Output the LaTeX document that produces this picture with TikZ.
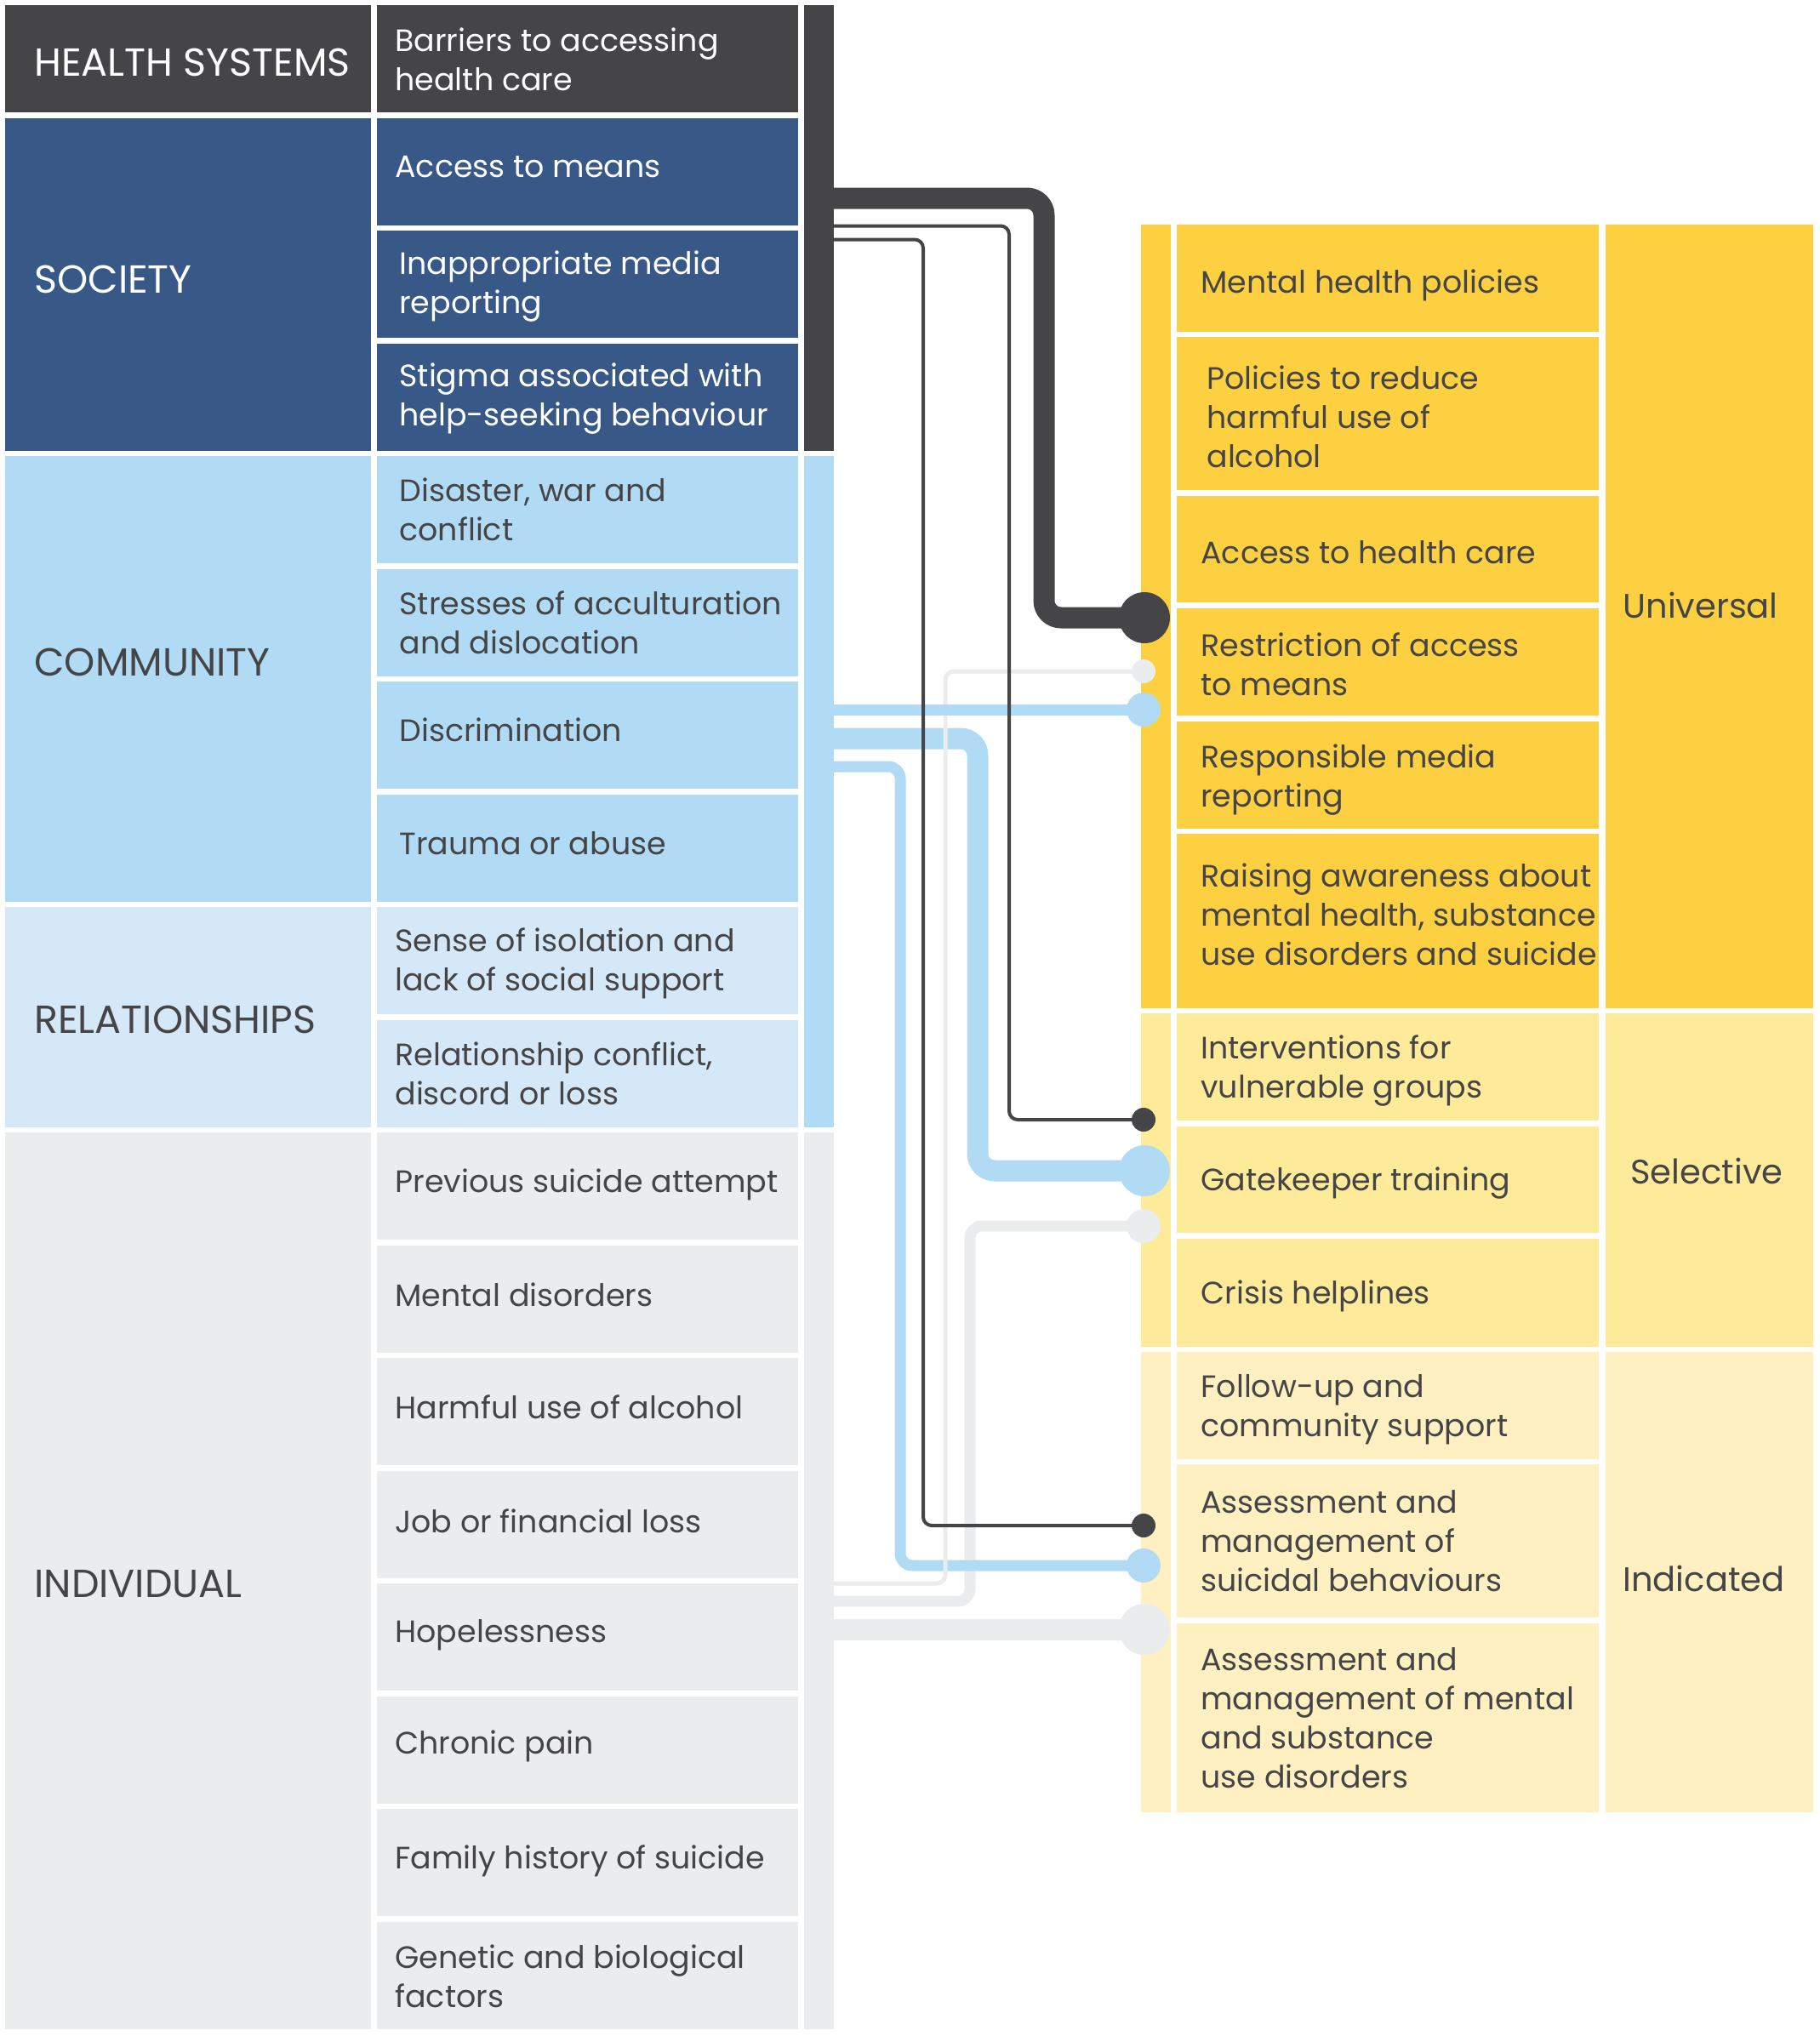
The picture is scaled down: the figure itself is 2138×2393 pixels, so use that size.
\documentclass[tikz,border=0pt]{standalone}
\usepackage{fontspec}
\setmainfont{Poppins}
\definecolor{cdark}{HTML}{454547}
\definecolor{csoc}{HTML}{385888}
\definecolor{ccom}{HTML}{B1DBF4}
\definecolor{crel}{HTML}{D5E8F8}
\definecolor{cind}{HTML}{EBECEE}
\definecolor{cuni}{HTML}{FDD042}
\definecolor{csel}{HTML}{FEEB99}
\definecolor{cindic}{HTML}{FEF0C0}
\definecolor{ctext}{HTML}{454547}
\newcommand\cellbox[6]{\node[cbox, fill=#6, minimum width={(#4-#2)*0.5pt}, minimum height={(#5-#3)*0.5pt}] (#1) at ({(#2+#4)/2},{(#3+#5)/2}) {};}
\tikzset{
  cbox/.style={rectangle, draw=none, inner sep=0pt, outer sep=0pt},
  txt/.style={anchor=west, align=left, inner sep=0pt, text=ctext, font=\fontsize{18.2}{23}\selectfont},
  wtxt/.style={txt, text=white},
  lab/.style={txt, font=\fontsize{23}{27}\selectfont},
  wlab/.style={lab, text=white},
  rlab/.style={txt, font=\fontsize{20}{24}\selectfont},
  dot/.style={circle, draw=none, inner sep=0pt, outer sep=0pt},
  conn/.style={line cap=butt, line join=round},
}
\begin{document}
\begin{tikzpicture}[x=0.5pt, y=-0.5pt]
\useasboundingbox (0,0) rectangle (2138,2393);
% ---------- left groups ----------
\cellbox{gHS}{6}{6}{436}{132}{cdark}
\cellbox{gSO}{6}{138.5}{436}{529.5}{csoc}
\cellbox{gCO}{6}{536}{436}{1059.5}{ccom}
\cellbox{gRE}{6}{1066}{436}{1324.5}{crel}
\cellbox{gIN}{6}{1331}{436}{2384.5}{cind}
\node[wlab] (lHS) at (40,73) {HEALTH SYSTEMS};
\node[wlab] (lSO) at (40,328) {SOCIETY};
\node[lab] (lCO) at (40,778) {COMMUNITY};
\node[lab] (lRE) at (40,1198) {RELATIONSHIPS};
\node[lab] (lIN) at (40,1862) {INDIVIDUAL};
% ---------- middle column ----------
\cellbox{m0}{443}{6}{938}{132}{cdark}
\cellbox{m1}{443}{138.5}{938}{264.5}{csoc}
\cellbox{m2}{443}{271}{938}{397}{csoc}
\cellbox{m3}{443}{403.5}{938}{529.5}{csoc}
\cellbox{m4}{443}{536}{938}{662}{ccom}
\cellbox{m5}{443}{668.5}{938}{794.5}{ccom}
\cellbox{m6}{443}{801}{938}{927}{ccom}
\cellbox{m7}{443}{933.5}{938}{1059.5}{ccom}
\cellbox{m8}{443}{1066}{938}{1192}{crel}
\cellbox{m9}{443}{1198.5}{938}{1324.5}{crel}
\cellbox{m10}{443}{1331}{938}{1457}{cind}
\cellbox{m11}{443}{1463.5}{938}{1589.5}{cind}
\cellbox{m12}{443}{1596}{938}{1722}{cind}
\cellbox{m13}{443}{1728.5}{938}{1854.5}{cind}
\cellbox{m14}{443}{1861}{938}{1987}{cind}
\cellbox{m15}{443}{1993.5}{938}{2119.5}{cind}
\cellbox{m16}{443}{2126}{938}{2252}{cind}
\cellbox{m17}{443}{2258.5}{938}{2384.5}{cind}
\node[wtxt] (t0) at ([xshift=10.5pt,yshift=-0.5pt]m0.west) {Barriers to accessing\\health care};
\node[wtxt] (t1) at ([xshift=10.5pt,yshift=2.5pt]m1.west) {Access to means};
\node[wtxt] (t2) at ([xshift=13pt,yshift=-1.5pt]m2.west) {Inappropriate media\\reporting};
\node[wtxt] (t3) at ([xshift=13pt,yshift=-1pt]m3.west) {Stigma associated with\\help-seeking behaviour};
\node[txt] (t4) at ([xshift=13pt]m4.west) {Disaster, war and\\conflict};
\node[txt] (t5) at ([xshift=13pt]m5.west) {Stresses of acculturation\\and dislocation};
\node[txt] (t6) at ([xshift=13pt,yshift=3pt]m6.west) {Discrimination};
\node[txt] (t7) at ([xshift=13pt,yshift=2.5pt]m7.west) {Trauma or abuse};
\node[txt] (t8) at ([xshift=10.5pt,yshift=-1.5pt]m8.west) {Sense of isolation and\\lack of social support};
\node[txt] (t9) at ([xshift=10.5pt]m9.west) {Relationship conflict,\\discord or loss};
\node[txt] (t10) at ([xshift=10.5pt,yshift=1pt]m10.west) {Previous suicide attempt};
\node[txt] (t11) at ([xshift=10.5pt,yshift=2.5pt]m11.west) {Mental disorders};
\node[txt] (t12) at ([xshift=10.5pt,yshift=2.5pt]m12.west) {Harmful use of alcohol};
\node[txt] (t13) at ([xshift=10.5pt,yshift=2pt]m13.west) {Job or financial loss};
\node[txt] (t14) at ([xshift=10.5pt,yshift=1pt]m14.west) {Hopelessness};
\node[txt] (t15) at ([xshift=10.5pt,yshift=2pt]m15.west) {Chronic pain};
\node[txt] (t16) at ([xshift=10.5pt,yshift=1pt]m16.west) {Family history of suicide};
\node[txt] (t17) at ([xshift=10.5pt,yshift=-0.5pt]m17.west) {Genetic and biological\\factors};
% ---------- bar ----------
\cellbox{barA}{945}{6}{980}{529.5}{cdark}
\cellbox{barB}{945}{536}{980}{1324.5}{ccom}
\cellbox{barC}{945}{1331}{980}{2384.5}{cind}
% ---------- right side ----------
\cellbox{sU}{1341}{264}{1376}{1185}{cuni}
\cellbox{sS}{1341}{1191}{1376}{1583}{csel}
\cellbox{sI}{1341}{1589}{1376}{2130}{cindic}
\cellbox{u1}{1383}{264}{1879}{390}{cuni}
\cellbox{u2}{1383}{396}{1879}{576}{cuni}
\cellbox{u3}{1383}{583}{1879}{708}{cuni}
\cellbox{u4}{1383}{715}{1879}{841}{cuni}
\cellbox{u5}{1383}{848}{1879}{974}{cuni}
\cellbox{u6}{1383}{980}{1879}{1185}{cuni}
\cellbox{s1}{1383}{1191}{1879}{1317}{csel}
\cellbox{s2}{1383}{1324}{1879}{1449}{csel}
\cellbox{s3}{1383}{1456}{1879}{1583}{csel}
\cellbox{i1}{1383}{1589}{1879}{1715}{cindic}
\cellbox{i2}{1383}{1721}{1879}{1901}{cindic}
\cellbox{i3}{1383}{1908}{1879}{2130}{cindic}
\cellbox{rU}{1887}{264}{2131}{1185}{cuni}
\cellbox{rS}{1887}{1191}{2131}{1583}{csel}
\cellbox{rI}{1887}{1589}{2131}{2130}{cindic}
\node[txt] (tu1) at ([xshift=14pt,yshift=-4pt]u1.west) {Mental health policies};
\node[txt] (tu2) at ([xshift=17.5pt,yshift=-2pt]u2.west) {Policies to reduce\\harmful use of\\alcohol};
\node[txt] (tu3) at ([xshift=14pt,yshift=-2pt]u3.west) {Access to health care};
\node[txt] (tu4) at ([xshift=14pt,yshift=-1.5pt]u4.west) {Restriction of access\\to means};
\node[txt] (tu5) at ([xshift=14pt,yshift=-3pt]u5.west) {Responsible media\\reporting};
\node[txt] (tu6) at ([xshift=14pt,yshift=4pt]u6.west) {Raising awareness about\\mental health, substance\\use disorders and suicide};
\node[txt] (ts1) at ([xshift=14pt,yshift=-2pt]s1.west) {Interventions for\\vulnerable groups};
\node[txt] (ts2) at ([xshift=14pt,yshift=-2pt]s2.west) {Gatekeeper training};
\node[txt] (ts3) at ([xshift=14pt,yshift=-2pt]s3.west) {Crisis helplines};
\node[txt] (ti1) at ([xshift=14pt,yshift=-2.5pt]i1.west) {Follow-up and\\community support};
\node[txt] (ti2) at ([xshift=14pt]i2.west) {Assessment and\\management of\\suicidal behaviours};
\node[txt] (ti3) at ([xshift=14pt]i3.west) {Assessment and\\management of mental\\and substance\\use disorders};
\node[rlab] (lU) at (1907,711) {Universal};
\node[rlab] (lS) at (1916,1376) {Selective};
\node[rlab] (lI) at (1907,1855) {Indicated};
% ---------- connector ends ----------
\node[dot, fill=cdark, minimum size=30pt] (d1) at (1345,726) {};
\node[dot, fill=cdark, minimum size=14pt] (d2) at (1344,1316) {};
\node[dot, fill=cdark, minimum size=14pt] (d3) at (1344,1793) {};
\node[dot, fill=cind, minimum size=14pt] (d4) at (1344,789) {};
\node[dot, fill=ccom, minimum size=20pt] (d5) at (1344,834) {};
\node[dot, fill=ccom, minimum size=30pt] (d6) at (1345,1376) {};
\node[dot, fill=ccom, minimum size=20pt] (d7) at (1344,1840) {};
\node[dot, fill=cind, minimum size=20pt] (d8) at (1344,1441) {};
\node[dot, fill=cind, minimum size=30pt] (d9) at (1345,1915) {};
\coordinate (o1) at (980,233);
\coordinate (o2) at (980,265.5);
\coordinate (o3) at (980,281.5);
\coordinate (o4) at (980,1861);
\coordinate (o5) at (980,834);
\coordinate (o6) at (980,868);
\coordinate (o7) at (980,901);
\coordinate (o8) at (980,1882);
\coordinate (o9) at (980,1915);
% ---------- connectors ----------
\draw[conn, cind, line width=6.5pt, rounded corners=7pt] (o8) -| (1140,1441) -- (d8.center);
\draw[conn, cind, line width=12.5pt] (o9) -- (d9.center);
\draw[conn, ccom, line width=12.5pt, rounded corners=10pt] (o6) -| (1149,1376) -- (d6.center);
\draw[conn, ccom, line width=6.5pt, rounded corners=7pt] (o7) -| (1058,1840) -- (d7.center);
\draw[conn, cind, line width=2.5pt, rounded corners=5pt] (o4) -| (1111,789) -- (d4.center);
\draw[conn, ccom, line width=6.5pt] (o5) -- (d5.center);
\draw[conn, cdark, line width=12.5pt, rounded corners=10pt] (o1) -| (1227,726) -- (d1.center);
\draw[conn, cdark, line width=2pt, rounded corners=5pt] (o2) -| (1186,1316) -- (d2.center);
\draw[conn, cdark, line width=2pt, rounded corners=5pt] (o3) -| (1085,1793) -- (d3.center);
\end{tikzpicture}
\end{document}
